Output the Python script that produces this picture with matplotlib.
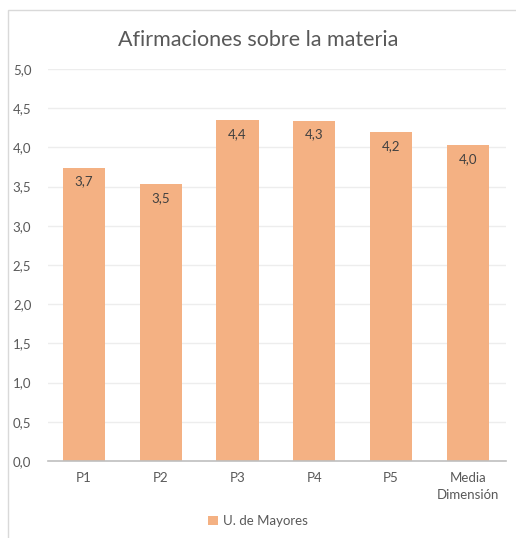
import matplotlib
matplotlib.use("Agg")
import matplotlib.pyplot as plt
from matplotlib.patches import Rectangle

# ─── data ────────────────────────────────────────────────────────────────────
categories = ["P1", "P2", "P3", "P4", "P5", "Media\nDimensión"]
values     = [3.74, 3.53, 4.35, 4.34, 4.19, 4.03]
labels     = ["3,7", "3,5", "4,4", "4,3", "4,2", "4,0"]
yticks     = [0.0, 0.5, 1.0, 1.5, 2.0, 2.5, 3.0, 3.5, 4.0, 4.5, 5.0]
series     = "U. de Mayores"

BAR   = "#F4B183"
GRID  = "#EDEDED"
TEXT  = "#595959"

plt.rcParams["font.family"] = ["Lato", "DejaVu Sans"]

fig = plt.figure(figsize=(5.16, 5.38), dpi=100)
ax = fig.add_axes([0.093, 0.143, 0.888, 0.729])

x = range(len(categories))
ax.bar(x, values, width=0.55, color=BAR, label=series, zorder=2)

for xi, v, lab in zip(x, values, labels):
    ax.text(xi, v - 0.1, lab, ha="center", va="top", fontsize=9.5, color="#404040", zorder=3)

ax.set_ylim(0, 5.0)
ax.set_xlim(-0.47, 5.5)
ax.set_yticks(yticks)
ax.set_yticklabels([f"{t:.1f}".replace(".", ",") for t in yticks])
ax.set_xticks(list(x))
ax.set_xticklabels(categories, linespacing=1.5)
ax.tick_params(axis="both", length=0, labelsize=9.5, colors=TEXT)
ax.tick_params(axis="y", pad=12)
ax.tick_params(axis="x", pad=8)
ax.yaxis.grid(True, color=GRID, linewidth=1, zorder=0)
ax.set_axisbelow(True)
for s in ["top", "right", "left"]:
    ax.spines[s].set_visible(False)
ax.spines["bottom"].set_color("#BFBFBF")
ax.spines["bottom"].set_linewidth(1.2)

fig.text(0.5, 0.925, "Afirmaciones sobre la materia", ha="center", va="center",
         fontsize=15.5, color=TEXT)

fig.legend(loc="center", bbox_to_anchor=(0.5, 0.032), frameon=False,
           fontsize=9.5, handlelength=0.7, handleheight=0.7, handletextpad=0.4,
           labelcolor=TEXT)

# light frame around the chart
fig.patches.append(Rectangle((8 / 516, -0.01), 1.0, 1 - 10 / 538 + 0.01,
                             transform=fig.transFigure, fill=False,
                             edgecolor="#D9D9D9", linewidth=1))

fig.savefig("out.png", dpi=100)
